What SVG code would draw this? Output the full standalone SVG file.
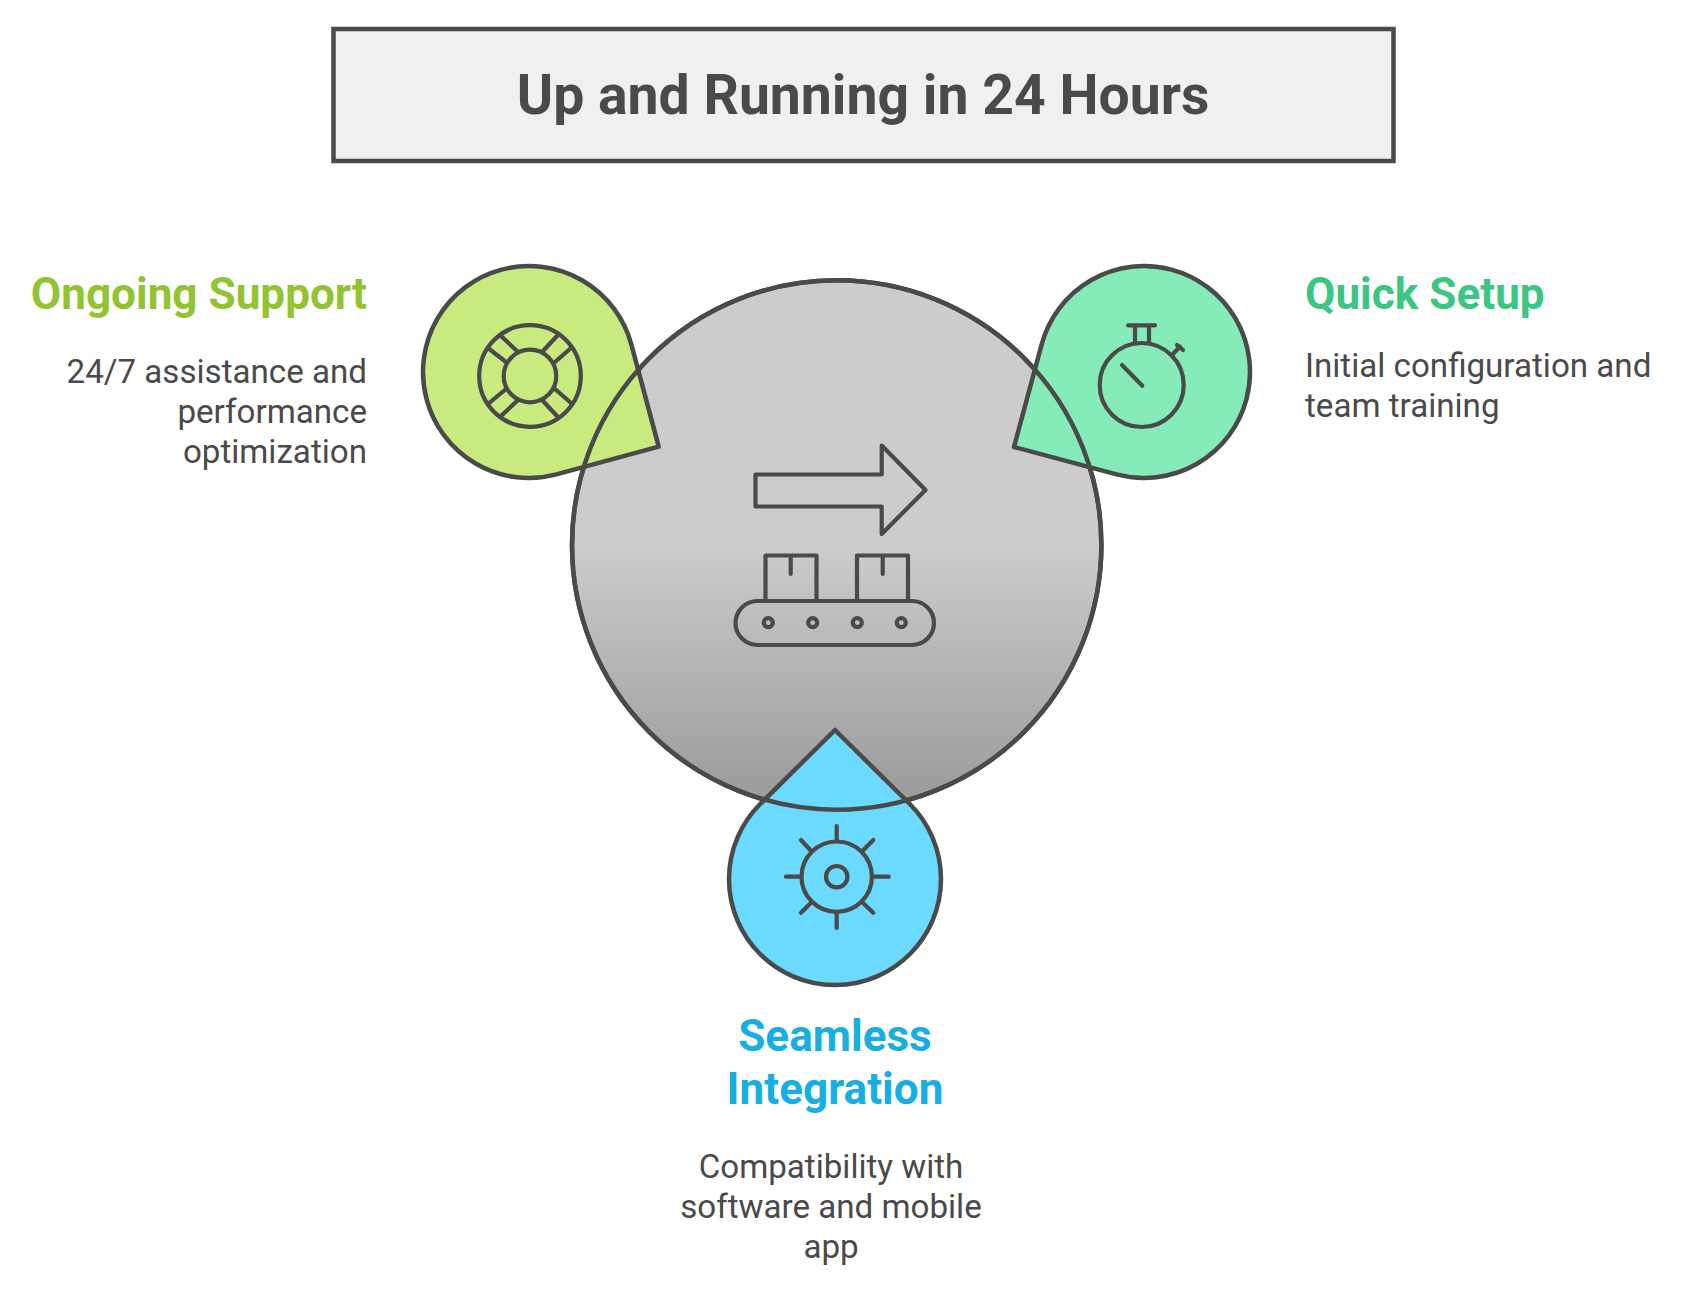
<svg xmlns="http://www.w3.org/2000/svg" width="1699" height="1301" viewBox="0 0 1699 1301">
<defs>
<linearGradient id="g" gradientUnits="userSpaceOnUse" x1="0" y1="280" x2="0" y2="810"><stop offset="0" stop-color="#cccccc"/><stop offset="0.5" stop-color="#cccccc"/><stop offset="1" stop-color="#999999"/></linearGradient>
</defs>
<style>
.s{fill:none;stroke:#4a4a4a;stroke-width:4.200;stroke-linecap:round;stroke-linejoin:round}
.o{stroke:#4a4a4a;stroke-width:4.500;stroke-linejoin:round}
text{font-family:Roboto,"Liberation Sans",sans-serif}
.h{font-size:44.100px;font-weight:700}
.b{font-size:33.150px;fill:#4a4a4a}
</style>
<rect width="1699" height="1301" fill="#ffffff"/>
<g id="title"><rect x="333.500" y="29" width="1060" height="132" fill="#f0f0f0" stroke="#4a4a4a" stroke-width="4.500"/>
<text x="863" y="114" text-anchor="middle" font-size="55.300" font-weight="700" fill="#4a4a4a">Up and Running in 24 Hours</text></g>
<g id="center"><circle cx="836.700" cy="545" r="264.700" fill="url(#g)" stroke="#4a4a4a" stroke-width="4.500"/></g>
<g id="ongoing-support">
<path class="o" fill="#c9ea7f" d="M658.700 446.700L556.400 474.400A106 106 0 1 1 631.400 344.600Z"/>
<g class="s"><circle cx="530" cy="376" r="50.800"/><circle cx="530" cy="376" r="26.300"/>
<path d="M501 336L517 351M557 336L543 351M488 348L506 362M571 348L555 362M488 404L506 389M501 416L517 401M543 401L557 416M555 389L571 403"/></g>
<text class="h" x="367" y="309" text-anchor="end" fill="#93c332">Ongoing Support</text>
<g class="b" text-anchor="end"><text x="367" y="383">24/7 assistance and</text><text x="367" y="423">performance</text><text x="367" y="463">optimization</text></g>
</g>
<g id="quick-setup">
<path class="o" fill="#85ecb9" d="M1014 447L1116.600 474.400A106 106 0 1 0 1041.600 344.600Z"/>
<g class="s"><circle cx="1141.700" cy="385" r="42"/>
<path d="M1128 325.300H1155M1135 325.300V343M1149 325.300V343M1122 365L1142.300 385.700M1173 354L1180 346.500M1177 345L1183 350"/></g>
<text class="h" x="1305" y="309" fill="#3cc583">Quick Setup</text>
<g class="b"><text x="1305" y="377">Initial configuration and</text><text x="1305" y="417">team training</text></g>
</g>
<g id="seamless-integration">
<path class="o" fill="#6cd9ff" d="M835 730L909.800 804A106 106 0 1 1 760.200 804Z"/>
<g class="s"><circle cx="836.700" cy="876.700" r="35.200"/><circle cx="836.700" cy="876.700" r="10.700"/>
<path d="M836.700 826V840M836.700 913V928M786 876.700H800.700M873.300 876.700H888.700M801 840L811 850.700M873.300 840L862.700 850.700M801 912.700L811 902.700M873.300 912.700L862.700 902.700"/></g>
<g class="h" text-anchor="middle" fill="#17aee1"><text x="835" y="1051">Seamless</text><text x="835" y="1104">Integration</text></g>
<g class="b" text-anchor="middle"><text x="831" y="1178">Compatibility with</text><text x="831" y="1218">software and mobile</text><text x="831" y="1258">app</text></g>
</g>
<g id="center-outline">
<circle cx="836.700" cy="545" r="264.700" fill="none" stroke="#4a4a4a" stroke-width="4.500"/>
<g class="s"><path d="M755.500 474.500H881.700V445.500L925.500 490L881.700 534V506.500H755.500Z"/>
<rect x="735.500" y="601" width="198.500" height="44" rx="22"/>
<path d="M765.500 601V555.500H816.500V601M857 601V555.500H908V601M790.700 555.500V574M882.700 555.500V574"/>
<circle cx="768.300" cy="622.700" r="4.500"/><circle cx="812.700" cy="622.700" r="4.500"/><circle cx="857.300" cy="622.700" r="4.500"/><circle cx="901.300" cy="622.700" r="4.500"/></g>
</g>
</svg>
